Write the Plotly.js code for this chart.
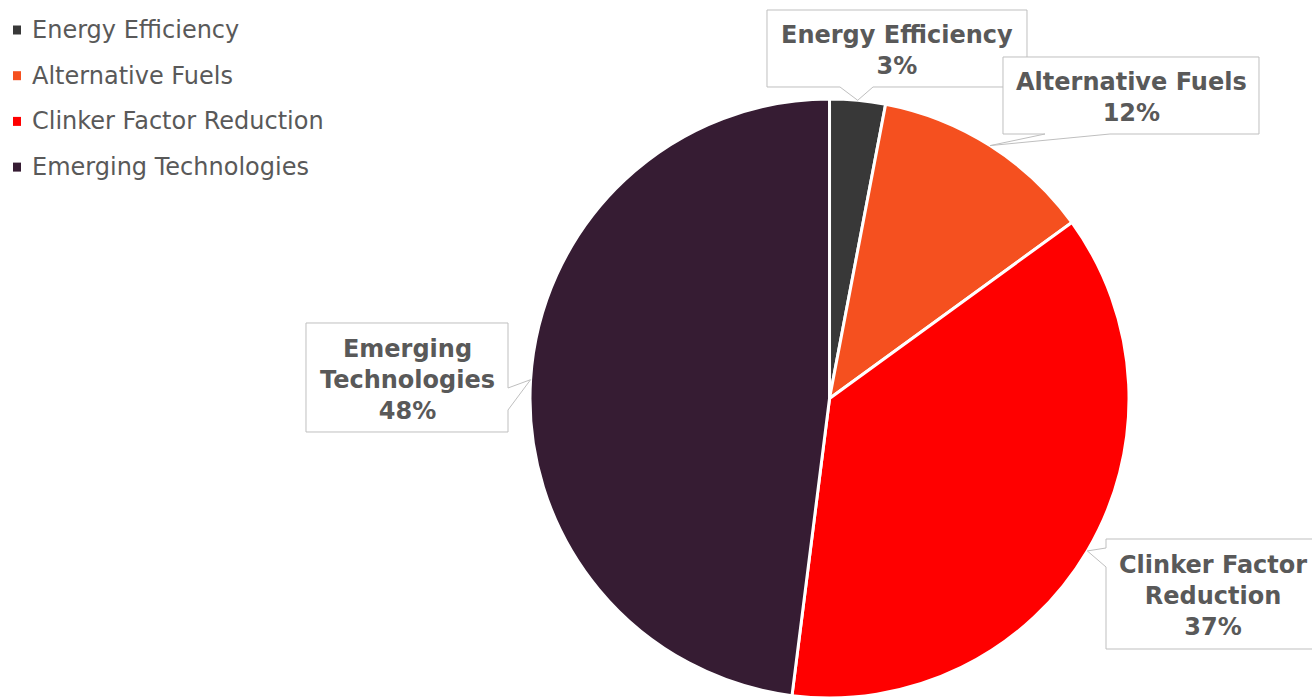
<!DOCTYPE html>
<html>
<head>
<meta charset="utf-8">
<script src="https://cdn.plot.ly/plotly-3.0.1.min.js"></script>
<style>
  html, body { margin: 0; padding: 0; background: #ffffff; overflow: hidden; }
  #chart { width: 1312px; height: 698px; }
</style>
</head>
<body>
<div id="chart"></div>
<script>
// ---- data ----
var categories = ["Energy Efficiency", "Alternative Fuels", "Clinker Factor Reduction", "Emerging Technologies"];
var values = [3, 12, 37, 48];
var calloutLabels = ["Energy Efficiency", "Alternative Fuels", "Clinker Factor<br>Reduction", "Emerging<br>Technologies"];
var sliceColors = ["#383838", "#F5501F", "#FF0000", "#361C33"];

// ---- layout constants ----
var W = 1312, H = 698;
var domX = [0.4028, 0.8617], domY = [0, 0.8582];
var textColor = "#595959";
var fontFam = "DejaVu Sans, Verdana, sans-serif";

function px(x) { return x / W; }
function py(y) { return 1 - y / H; }

// pie geometry (pixels) derived from the domain, used to anchor callout tips
var cx = (domX[0] + domX[1]) / 2 * W;
var cy = H - (domY[0] + domY[1]) / 2 * H;
var R = Math.min((domX[1] - domX[0]) * W, (domY[1] - domY[0]) * H) / 2;

var total = values.reduce(function (a, b) { return a + b; }, 0);
function tipFor(i) {
  var before = 0;
  for (var k = 0; k < i; k++) before += values[k];
  var frac = (before + values[i] / 2) / total;
  var ang = frac * 2 * Math.PI; // clockwise from 12 o'clock
  return [cx + R * Math.sin(ang), cy - R * Math.cos(ang)];
}

// callout boxes (pixels): box [x0,y0,x1,y1], side, pointer base [a,b], text center
var callouts = [
  { i: 0, box: [767, 10, 1027, 87], side: "bottom", base: [840, 873], tc: [897, 51] },
  { i: 1, box: [1003, 57, 1259, 134], side: "bottom", base: [1045, 1110], tc: [1131, 98] },
  { i: 3, box: [306, 323, 508, 432], side: "right", base: [388, 410], tc: [407, 380] },
  { i: 2, box: [1106, 539, 1322, 649], side: "left", base: [548, 567], tc: [1213, 596] }
];

function pathFrom(pts) {
  return "M" + pts.map(function (p) { return px(p[0]).toFixed(5) + "," + py(p[1]).toFixed(5); }).join(" L") + " Z";
}

var shapes = [];
var annotations = [];

callouts.forEach(function (c) {
  var b = c.box, t = tipFor(c.i), pts;
  if (c.side === "bottom") {
    pts = [[b[0], b[1]], [b[2], b[1]], [b[2], b[3]], [c.base[1], b[3]], t, [c.base[0], b[3]], [b[0], b[3]]];
  } else if (c.side === "right") {
    pts = [[b[0], b[1]], [b[2], b[1]], [b[2], c.base[0]], t, [b[2], c.base[1]], [b[2], b[3]], [b[0], b[3]]];
  } else {
    pts = [[b[0], b[1]], [b[2], b[1]], [b[2], b[3]], [b[0], b[3]], [b[0], c.base[1]], t, [b[0], c.base[0]]];
  }
  shapes.push({
    type: "path", xref: "paper", yref: "paper", layer: "above",
    path: pathFrom(pts),
    fillcolor: "#ffffff", line: { color: "#BFBFBF", width: 1 }
  });
  var pct = Math.round(values[c.i] / total * 100) + "%";
  annotations.push({
    xref: "paper", yref: "paper", x: px(c.tc[0]), y: py(c.tc[1]),
    xanchor: "center", yanchor: "middle", showarrow: false, align: "center",
    text: "<b>" + calloutLabels[c.i].split("<br>").join("</b><br><b>") + "</b><br><b>" + pct + "</b>",
    font: { family: fontFam, size: 24, color: textColor }
  });
});

// custom legend
var legendTop = 30, legendStep = 45.7;
categories.forEach(function (name, i) {
  var yc = legendTop + i * legendStep;
  shapes.push({
    type: "rect", xref: "paper", yref: "paper", layer: "above",
    x0: px(13), x1: px(21), y0: py(yc - 4.5), y1: py(yc + 4.5),
    fillcolor: sliceColors[i], line: { width: 0 }
  });
  annotations.push({
    xref: "paper", yref: "paper", x: px(30), y: py(yc),
    xanchor: "left", yanchor: "middle", showarrow: false,
    text: name, font: { family: fontFam, size: 24, color: textColor }
  });
});

var trace = {
  type: "pie",
  labels: categories,
  values: values,
  sort: false,
  direction: "clockwise",
  rotation: 0,
  textinfo: "none",
  hoverinfo: "label+percent",
  showlegend: false,
  marker: { colors: sliceColors, line: { color: "#ffffff", width: 3 } },
  domain: { x: domX, y: domY }
};

var layout = {
  width: W, height: H,
  margin: { l: 0, r: 0, t: 0, b: 0 },
  paper_bgcolor: "#ffffff",
  plot_bgcolor: "#ffffff",
  showlegend: false,
  shapes: shapes,
  annotations: annotations,
  font: { family: fontFam }
};

Plotly.newPlot("chart", [trace], layout, { displayModeBar: false, staticPlot: true });
</script>
</body>
</html>
